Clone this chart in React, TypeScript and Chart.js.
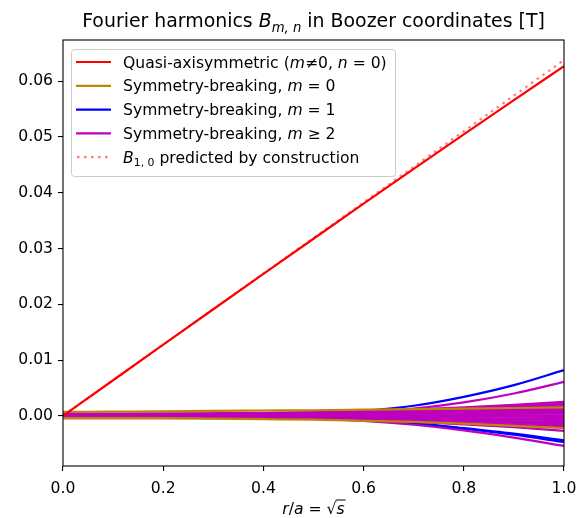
import { useEffect, useRef } from "react";
import { Chart, registerables } from "chart.js";

Chart.register(...registerables);

// Normalised radius r/a where each harmonic is sampled
const radius = [0, 0.1, 0.2, 0.3, 0.4, 0.5, 0.6, 0.7, 0.8, 0.9, 1.0];

// Quasi-axisymmetric harmonics (m != 0, n = 0)
const quasiB10 = [0, 0.00638, 0.01275, 0.01911, 0.02545, 0.03176, 0.03804, 0.04428, 0.05048, 0.05662, 0.0627];
const quasiB20 = [0, 0, 0.00001, 0.00003, 0.00005, 0.00008, 0.00012, 0.00022, 0.00038, 0.0006, 0.0009];

// Symmetry-breaking, m = 0
const breakM0a = [0.0007, 0.00075, 0.0008, 0.0009, 0.00095, 0.001, 0.0011, 0.0012, 0.0013, 0.0014, 0.0015];
const breakM0b = [-0.0004, -0.0004, -0.0004, -0.0005, -0.0006, -0.0007, -0.0009, -0.0011, -0.0014, -0.0018, -0.0022];

// Symmetry-breaking, m = 1
const breakM1a = [0, 0.00003, 0.00005, 0.0001, 0.0002, 0.0004, 0.0009, 0.0018, 0.0034, 0.0055, 0.0082];
const breakM1b = [0, 0, 0, 0.0001, 0.0002, 0.0003, 0.0005, 0.0007, 0.0009, 0.0011, 0.0014];
const breakM1c = [0, -0.00002, -0.00005, -0.0001, -0.0002, -0.0004, -0.0008, -0.0014, -0.0023, -0.0034, -0.0047];
const breakM1d = [0, -0.00002, -0.00004, -0.0001, -0.0002, -0.00038, -0.00075, -0.0013, -0.0022, -0.0032, -0.0044];

// Symmetry-breaking, m >= 2
const breakM2 = [
  [0, 0, 0.00002, 0.00006, 0.00015, 0.0003, 0.0007, 0.0013, 0.0024, 0.004, 0.0061],
  [0.0003, 0.0003, 0.00033, 0.00039, 0.00048, 0.00063, 0.00085, 0.00114, 0.00151, 0.00195, 0.0025],
  [0.0002, 0.0002, 0.00023, 0.00028, 0.00036, 0.0005, 0.0007, 0.00096, 0.0013, 0.0017, 0.0022],
  [0.0004, 0.0004, 0.00042, 0.00046, 0.00052, 0.00063, 0.00078, 0.00097, 0.00123, 0.00153, 0.0019],
  [0.0001, 0.0001, 0.00012, 0.00016, 0.00022, 0.00033, 0.00048, 0.00067, 0.00093, 0.00123, 0.0016],
  [0, 0, 0.00002, 0.00005, 0.0001, 0.0002, 0.00033, 0.00049, 0.00072, 0.00098, 0.0013],
  [0.0003, 0.0003, 0.00031, 0.00033, 0.00036, 0.0004, 0.00048, 0.00057, 0.00069, 0.00083, 0.001],
  [-0.0001, -0.0001, -0.00009, -0.00007, -0.00004, 0.00002, 0.0001, 0.0002, 0.00034, 0.0005, 0.0007],
  [0.0002, 0.0002, 0.0002, 0.00021, 0.00022, 0.00023, 0.00025, 0.00028, 0.00031, 0.00035, 0.0004],
  [-0.0002, -0.0002, -0.0002, -0.00019, -0.00018, -0.00016, -0.00013, -0.00009, -0.00004, 0.00003, 0.0001],
  [0.0001, 0.0001, 0.0001, 0.00009, 0.00008, 0.00006, 0.00003, -0.00001, -0.00007, -0.00013, -0.0002],
  [-0.0003, -0.0003, -0.0003, -0.00031, -0.00032, -0.00033, -0.00035, -0.00038, -0.00041, -0.00045, -0.0005],
  [-0.0001, -0.0001, -0.00011, -0.00013, -0.00016, -0.0002, -0.00028, -0.00037, -0.00049, -0.00063, -0.0008],
  [-0.0004, -0.0004, -0.00041, -0.00043, -0.00046, -0.0005, -0.00058, -0.00067, -0.00079, -0.00093, -0.0011],
  [-0.0002, -0.0002, -0.00022, -0.00025, -0.0003, -0.00038, -0.0005, -0.00066, -0.00086, -0.0011, -0.0014],
  [0, 0, -0.00002, -0.00007, -0.00014, -0.00026, -0.00043, -0.00065, -0.00094, -0.00128, -0.0017],
  [-0.0003, -0.0003, -0.00032, -0.00037, -0.00044, -0.00056, -0.00073, -0.00095, -0.00124, -0.00158, -0.002],
  [-0.0001, -0.0001, -0.00013, -0.0002, -0.00031, -0.00049, -0.00075, -0.00109, -0.00153, -0.00205, -0.0027],
  [0, -0.00002, -0.00006, -0.00013, -0.00028, -0.0005, -0.0009, -0.0016, -0.0026, -0.0039, -0.0054],
];

// B_{1,0} predicted by construction (straight line)
const predictedRadius = [0, 1];
const predictedB10 = [0, 0.0638];

const xTickValues = [0, 0.2, 0.4, 0.6, 0.8, 1.0];
const yTickValues = [0, 0.01, 0.02, 0.03, 0.04, 0.05, 0.06];
const yMin = -0.009;
const yMax = 0.0674;

const RED = "#ff0000";
const GOLD = "#bc8605";
const BLUE = "#0000ff";
const MAGENTA = "#bf00bf";
const SALMON = "rgba(255, 0, 0, 0.5)";
const FONT = '"DejaVu Sans", sans-serif';
const TEXT_SIZE = 15.6;
const TITLE_SIZE = 18.9;

type Run = { t: string; it?: boolean; sub?: boolean };

const legendItems: { color: string; dotted?: boolean; runs: Run[] }[] = [
  { color: RED, runs: [{ t: "Quasi-axisymmetric (" }, { t: "m", it: true }, { t: "≠0, " }, { t: "n", it: true }, { t: " = 0)" }] },
  { color: GOLD, runs: [{ t: "Symmetry-breaking, " }, { t: "m", it: true }, { t: " = 0" }] },
  { color: BLUE, runs: [{ t: "Symmetry-breaking, " }, { t: "m", it: true }, { t: " = 1" }] },
  { color: MAGENTA, runs: [{ t: "Symmetry-breaking, " }, { t: "m", it: true }, { t: " ≥ 2" }] },
  { color: SALMON, dotted: true, runs: [{ t: "B", it: true }, { t: "1, 0", sub: true }, { t: " predicted by construction" }] },
];

const titleRuns: Run[] = [
  { t: "Fourier harmonics " },
  { t: "B", it: true },
  { t: "m, n", it: true, sub: true },
  { t: " in Boozer coordinates [T]" },
];

function runFont(r: Run, size: number) {
  const s = r.sub ? size * 0.7 : size;
  return `${r.it ? "oblique " : ""}${s}px ${FONT}`;
}

function drawRuns(ctx: CanvasRenderingContext2D, runs: Run[], x: number, y: number, size: number, center: boolean) {
  let total = 0;
  for (const r of runs) {
    ctx.font = runFont(r, size);
    total += ctx.measureText(r.t).width;
  }
  let cx = center ? x - total / 2 : x;
  ctx.textAlign = "left";
  ctx.textBaseline = "alphabetic";
  for (const r of runs) {
    ctx.font = runFont(r, size);
    ctx.fillText(r.t, cx, r.sub ? y + size * 0.24 : y);
    cx += ctx.measureText(r.t).width;
  }
  return cx;
}

function series(values: number[], xs: number[] = radius) {
  return values.map((v, i) => ({ x: xs[i], y: v }));
}

const decorations = {
  id: "decorations",
  afterDraw(chart: Chart) {
    const ctx = chart.ctx;
    const a = chart.chartArea;
    ctx.save();

    // axes frame
    ctx.strokeStyle = "#000";
    ctx.lineWidth = 1.1;
    ctx.strokeRect(a.left, a.top, a.right - a.left, a.bottom - a.top);

    ctx.fillStyle = "#000";
    // title
    drawRuns(ctx, titleRuns, (a.left + a.right) / 2, 27, TITLE_SIZE, true);

    // x-axis label: r/a = sqrt(s)
    const lx = (a.left + a.right) / 2;
    const ly = 514;
    const labelRuns: Run[] = [{ t: "r", it: true }, { t: "/" }, { t: "a", it: true }, { t: " = √" }, { t: "s", it: true }];
    ctx.font = runFont({ t: "s", it: true }, TEXT_SIZE);
    const sw = ctx.measureText("s").width;
    const end = drawRuns(ctx, labelRuns, lx, ly, TEXT_SIZE, true);
    ctx.lineWidth = 1;
    ctx.beginPath();
    ctx.moveTo(end - sw - 1, ly - 14);
    ctx.lineTo(end + 1, ly - 14);
    ctx.stroke();

    // legend
    const bx = 71, by = 49, bw = 324, bh = 127;
    ctx.beginPath();
    ctx.roundRect(bx + 0.5, by + 0.5, bw, bh, 3);
    ctx.fillStyle = "rgba(255,255,255,0.8)";
    ctx.fill();
    ctx.strokeStyle = "#cccccc";
    ctx.lineWidth = 1;
    ctx.stroke();
    legendItems.forEach((item, i) => {
      const cy = 62 + i * 23.8;
      ctx.strokeStyle = item.color;
      ctx.lineWidth = 2.2;
      ctx.beginPath();
      if (item.dotted) {
        ctx.setLineDash([2.6, 4.4]);
        ctx.moveTo(77, cy);
      } else {
        ctx.setLineDash([]);
        ctx.moveTo(76, cy);
      }
      ctx.lineTo(111, cy);
      ctx.stroke();
      ctx.setLineDash([]);
      ctx.fillStyle = "#000";
      drawRuns(ctx, item.runs, 123, cy + 5.5, TEXT_SIZE, false);
    });
    ctx.restore();
  },
};

export default function App() {
  const ref = useRef<HTMLCanvasElement | null>(null);

  useEffect(() => {
    if (!ref.current) return;
    const line = (data: { x: number; y: number }[], color: string, order: number, extra: object = {}) => ({
      data,
      borderColor: color,
      backgroundColor: color,
      borderWidth: 2.2,
      pointRadius: 0,
      fill: false,
      cubicInterpolationMode: "monotone" as const,
      order,
      ...extra,
    });

    // lower order is drawn on top
    const datasets: any[] = [
      line(series(predictedB10, predictedRadius), SALMON, 0, { borderDash: [2.6, 4.4] }),
      line(series(quasiB10), RED, 1),
      line(series(breakM0a), GOLD, 3),
      line(series(breakM0b), GOLD, 3),
      ...breakM2.map((v) => line(series(v), MAGENTA, 4)),
      line(series(quasiB20), RED, 5),
      line(series(breakM1a), BLUE, 5),
      line(series(breakM1b), BLUE, 5),
      line(series(breakM1c), BLUE, 5),
      line(series(breakM1d), BLUE, 5),
    ];

    const tickFont = { family: FONT, size: TEXT_SIZE };
    const chart = new Chart(ref.current, {
      type: "line",
      data: { datasets },
      options: {
        animation: false,
        responsive: false,
        devicePixelRatio: 1,
        layout: { padding: { top: 40, right: 15, left: 0, bottom: 0 } },
        plugins: { legend: { display: false }, tooltip: { enabled: false }, title: { display: false } },
        scales: {
          x: {
            type: "linear",
            min: 0,
            max: 1,
            border: { display: false },
            grid: { drawOnChartArea: false, drawTicks: true, tickLength: 5, color: "#000", lineWidth: 1.1 },
            ticks: {
              color: "#000",
              font: tickFont,
              padding: 9,
              maxRotation: 0,
              callback: (v: any) => Number(v).toFixed(1),
            },
            afterBuildTicks: (s: any) => { s.ticks = xTickValues.map((v) => ({ value: v })); },
            afterFit: (s: any) => { s.height = 52; s.paddingLeft = 0; s.paddingRight = 0; },
          },
          y: {
            type: "linear",
            min: yMin,
            max: yMax,
            border: { display: false },
            grid: { drawOnChartArea: false, drawTicks: true, tickLength: 5, color: "#000", lineWidth: 1.1 },
            ticks: {
              color: "#000",
              font: tickFont,
              padding: 5,
              callback: (v: any) => Number(v).toFixed(2),
            },
            afterBuildTicks: (s: any) => { s.ticks = yTickValues.map((v) => ({ value: v })); },
            afterFit: (s: any) => { s.width = 63; s.paddingTop = 0; s.paddingBottom = 0; },
          },
        },
      },
      plugins: [decorations],
    });
    return () => chart.destroy();
  }, []);

  return (
    <div style={{ position: "fixed", left: 0, top: 0, width: 579, height: 518, background: "#fff" }}>
      <canvas ref={ref} width={579} height={518} style={{ display: "block" }} />
    </div>
  );
}
